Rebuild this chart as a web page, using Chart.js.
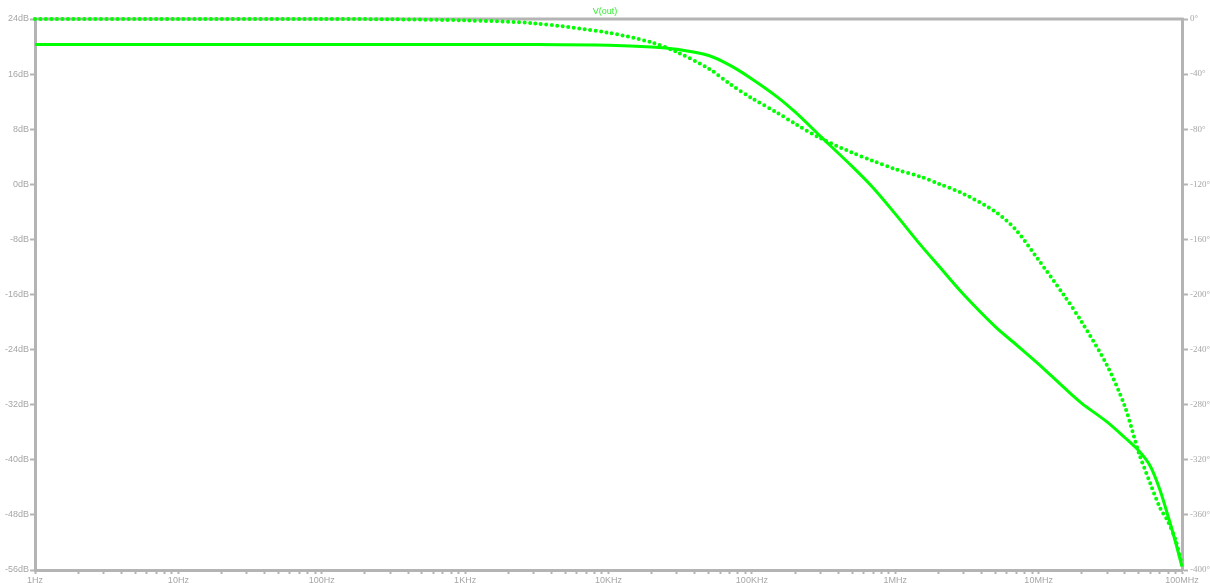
<!DOCTYPE html>
<html>
<head>
<meta charset="utf-8">
<script src="https://cdn.jsdelivr.net/npm/chart.js@4/dist/chart.umd.min.js"></script>
<style>
  html, body { margin: 0; padding: 0; background: #ffffff; }
  #wrap { width: 1210px; height: 583px; }
</style>
</head>
<body>
<div id="wrap"><canvas id="bodeChart" width="1210" height="583"></canvas></div>
<script>
// Frequencies (Hz) the values were read at
const freqs = [1, 10, 100, 300, 1e3, 3e3, 1e4, 2e4, 3e4, 5e4, 7e4, 1e5, 1.5e5, 2e5, 3e5, 5e5, 7e5,
  1e6, 1.5e6, 2e6, 3e6, 5e6, 7e6, 1e7, 1.5e7, 2e7, 3e7, 4e7, 5e7, 6e7, 7e7, 8e7, 9e7, 1e8];

// Magnitude of V(out) in dB (solid trace)
const magDb = [20.3, 20.3, 20.3, 20.3, 20.3, 20.3, 20.2, 19.95, 19.6, 18.7, 17.3, 15.3, 12.7, 10.5, 7.0, 2.6, -0.5,
  -4.3, -8.8, -11.8, -16.0, -20.7, -23.3, -26.1, -29.5, -31.8, -34.5, -36.8, -38.7, -40.9, -44.3, -48.2, -51.9, -55.5];

// Phase of V(out) in degrees (dotted trace)
const phaseDeg = [0, 0, 0, -0.2, -1.0, -3.1, -10.0, -17.0, -24.0, -36.0, -47.0, -57.5, -68.0, -76.0, -86.5, -97.0, -103.0,
  -109.0, -114.5, -119.5, -127.0, -140.0, -153.5, -175.0, -200.5, -220.0, -251.5, -281.5, -315.0, -337.0, -354.5, -365.0, -378.0, -396.0];

// Axis ticks
const decades = [1, 10, 100, 1e3, 1e4, 1e5, 1e6, 1e7, 1e8];
const decadeLabels = ['1Hz', '10Hz', '100Hz', '1KHz', '10KHz', '100KHz', '1MHz', '10MHz', '100MHz'];
const dbTicks = [24, 16, 8, 0, -8, -16, -24, -32, -40, -48, -56];
const phaseTicks = [0, -40, -80, -120, -160, -200, -240, -280, -320, -360, -400];

const traceGreen = '#00ff00';
const axisGray = '#b4b4b4';
const labelGray = '#a6a6a6';

// every 1..9 step inside each decade, for the minor marks
const xTickValues = [];
decades.forEach((d, i) => {
    if (i === decades.length - 1) { xTickValues.push(d); return; }
    for (let s = 1; s <= 9; s++) xTickValues.push(d * s);
});

// top edge of the plot frame, drawn under the traces
const topFrame = {
    id: 'topFrame',
    beforeDatasetsDraw(chart) {
        const a = chart.chartArea;
        const ctx = chart.ctx;
        ctx.save();
        ctx.strokeStyle = axisGray;
        ctx.lineWidth = 3;
        ctx.beginPath();
        ctx.moveTo(a.left - 1.5, a.top);
        ctx.lineTo(a.right + 1.5, a.top);
        ctx.stroke();
        ctx.restore();
    }
};

const ctx = document.getElementById('bodeChart').getContext('2d');
new Chart(ctx, {
    type: 'line',
    data: {
        datasets: [
            {
                label: 'magnitude',
                data: freqs.map((f, i) => ({ x: f, y: magDb[i] })),
                yAxisID: 'yDb',
                borderColor: traceGreen,
                borderWidth: 3,
                pointRadius: 0,
                tension: 0.3,
                clip: 4,
                fill: false
            },
            {
                label: 'phase',
                data: freqs.map((f, i) => ({ x: f, y: phaseDeg[i] })),
                yAxisID: 'yPhase',
                borderColor: traceGreen,
                borderWidth: 4,
                borderDash: [0, 5.5],
                borderCapStyle: 'round',
                pointRadius: 0,
                tension: 0.3,
                clip: 4,
                fill: false
            }
        ]
    },
    options: {
        responsive: false,
        animation: false,
        layout: { padding: 0 },
        plugins: {
            legend: { display: false },
            tooltip: { enabled: false },
            title: {
                display: true,
                text: 'V(out)',
                color: '#33ee33',
                font: { family: 'Liberation Sans', size: 9, weight: 'normal' },
                padding: { top: 6, bottom: 2.2 }
            }
        },
        scales: {
            x: {
                type: 'logarithmic',
                min: 1,
                max: 1e8,
                afterBuildTicks: scale => {
                    scale.ticks = xTickValues.map(v => ({ value: v }));
                },
                afterFit: scale => { scale.height = 13; },
                border: { color: axisGray, width: 3 },
                grid: { drawOnChartArea: false, drawTicks: true, tickLength: 4, tickColor: axisGray, tickWidth: 2 },
                ticks: {
                    autoSkip: false,
                    maxRotation: 0,
                    padding: 1,
                    color: labelGray,
                    font: { family: 'Liberation Sans', size: 9 },
                    callback: function(value) {
                        const i = decades.indexOf(value);
                        return i >= 0 ? decadeLabels[i] : '';
                    }
                }
            },
            yDb: {
                position: 'left',
                min: -56,
                max: 24,
                afterBuildTicks: scale => {
                    scale.ticks = dbTicks.map(v => ({ value: v }));
                },
                afterFit: scale => { scale.width = 35; },
                border: { color: axisGray, width: 3 },
                grid: { drawOnChartArea: false, drawTicks: true, tickLength: 5, tickColor: axisGray, tickWidth: 2 },
                ticks: {
                    padding: 1,
                    color: labelGray,
                    font: { family: 'Liberation Sans', size: 9 },
                    callback: v => v + 'dB'
                }
            },
            yPhase: {
                position: 'right',
                min: -400,
                max: 0,
                afterBuildTicks: scale => {
                    scale.ticks = phaseTicks.map(v => ({ value: v }));
                },
                afterFit: scale => { scale.width = 28; },
                border: { color: axisGray, width: 3 },
                grid: { drawOnChartArea: false, drawTicks: true, tickLength: 6, tickColor: axisGray, tickWidth: 2 },
                ticks: {
                    padding: 2,
                    color: labelGray,
                    font: { family: 'Liberation Serif', size: 9 },
                    callback: v => v + '°'
                }
            }
        }
    },
    plugins: [topFrame]
});
</script>
</body>
</html>
